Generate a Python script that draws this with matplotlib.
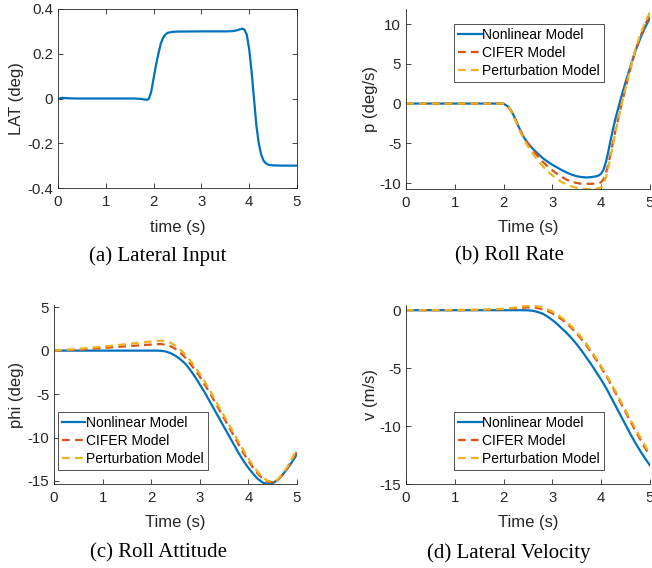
import matplotlib
matplotlib.use("Agg")
import matplotlib.pyplot as plt

plt.rcParams['font.family'] = ['Liberation Sans', 'DejaVu Sans']
plt.rcParams['axes.unicode_minus'] = False

BLUE = "#0072BD"
ORANGE = "#D95319"
YELLOW = "#EDB120"
DARK = "#262626"

# (a) lateral input
t_lat = [0, 0.05, 0.1, 0.2, 0.4, 1.0, 1.6, 1.75, 1.85, 1.9, 1.95, 2.0, 2.05, 2.1, 2.15, 2.2,
         2.25, 2.3, 2.4, 2.5, 3.0, 3.5, 3.65, 3.75, 3.85, 3.9, 3.95, 4.0, 4.05, 4.1, 4.15,
         4.2, 4.25, 4.3, 4.35, 4.4, 4.5, 4.7, 5.0]
lat = [-0.005, 0.002, 0.003, 0.001, 0, 0, 0, -0.002, -0.006, -0.002, 0.03, 0.09, 0.15, 0.2,
       0.245, 0.272, 0.287, 0.294, 0.298, 0.299, 0.3, 0.3, 0.301, 0.305, 0.312, 0.308, 0.285,
       0.22, 0.12, 0.0, -0.12, -0.2, -0.25, -0.278, -0.29, -0.296, -0.299, -0.3, -0.3]

# (b) roll rate
t_p = [0, 1.9, 2.0, 2.1, 2.2, 2.3, 2.4, 2.5, 2.6, 2.7, 2.8, 2.9, 3.0, 3.1, 3.2, 3.3, 3.4, 3.5,
       3.6, 3.7, 3.8, 3.9, 3.95, 4.0, 4.05, 4.1, 4.15, 4.2, 4.25, 4.3, 4.4, 4.5, 4.6, 4.7,
       4.8, 4.9, 5.0]
p_nonlin = [0, 0, -0.02, -0.4, -1.4, -2.8, -4.1, -5.0, -5.7, -6.3, -6.85, -7.3, -7.7, -8.05,
            -8.4, -8.7, -8.95, -9.15, -9.25, -9.3, -9.25, -9.15, -9.05, -8.8, -8.3, -7.3,
            -5.9, -4.4, -3.0, -1.7, 0.6, 2.7, 4.7, 6.6, 8.2, 9.6, 10.8]
p_cifer = [0, 0, -0.02, -0.4, -1.4, -2.8, -4.1, -5.1, -5.9, -6.6, -7.3, -7.9, -8.4, -8.85,
           -9.25, -9.6, -9.85, -10.0, -10.1, -10.1, -10.1, -10.05, -10.0, -9.9, -9.5, -8.7,
           -7.5, -6.1, -4.6, -3.2, -0.5, 2.0, 4.4, 6.6, 8.4, 9.9, 11.2]
p_pert = [0, 0, -0.02, -0.4, -1.5, -3.0, -4.3, -5.4, -6.3, -7.1, -7.85, -8.5, -9.05, -9.5,
          -9.9, -10.2, -10.45, -10.6, -10.7, -10.75, -10.75, -10.7, -10.65, -10.55, -10.1,
          -9.2, -7.9, -6.4, -4.9, -3.4, -0.6, 2.0, 4.5, 6.8, 8.7, 10.2, 11.5]

# (c) roll attitude and (d) lateral velocity share time points
t_cd = [0, 0.5, 1.0, 1.5, 2.0, 2.1, 2.2, 2.3, 2.4, 2.5, 2.6, 2.7, 2.8, 2.9, 3.0, 3.1, 3.2,
        3.3, 3.4, 3.5, 3.6, 3.7, 3.8, 3.9, 4.0, 4.1, 4.2, 4.3, 4.4, 4.5, 4.6, 4.7, 4.8, 4.9, 5.0]
phi_nonlin = [0, 0, 0, 0, 0, 0, -0.02, -0.1, -0.3, -0.6, -1.0, -1.5, -2.2, -3.0, -3.9, -4.8,
              -5.8, -6.8, -7.8, -8.8, -9.8, -10.8, -11.8, -12.7, -13.5, -14.2, -14.8, -15.2,
              -15.35, -15.25, -14.9, -14.3, -13.6, -12.8, -11.9]
phi_cifer = [0, 0.1, 0.3, 0.5, 0.7, 0.75, 0.75, 0.68, 0.5, 0.2, -0.25, -0.8, -1.5, -2.2, -3.0,
             -3.9, -4.8, -5.8, -6.8, -7.8, -8.8, -9.8, -10.8, -11.8, -12.7, -13.5, -14.2,
             -14.8, -15.1, -15.15, -14.9, -14.3, -13.5, -12.6, -11.6]
phi_pert = [0, 0.2, 0.45, 0.75, 1.05, 1.12, 1.15, 1.08, 0.9, 0.55, 0.1, -0.45, -1.1, -1.85,
            -2.65, -3.55, -4.5, -5.5, -6.5, -7.5, -8.5, -9.5, -10.5, -11.5, -12.4, -13.3,
            -14.0, -14.6, -15.0, -15.1, -14.85, -14.2, -13.4, -12.4, -11.3]
v_nonlin = [0, 0, 0, 0, 0, 0, 0, 0, 0, -0.01, -0.05, -0.15, -0.3, -0.55, -0.85, -1.2, -1.6,
            -2.0, -2.45, -2.95, -3.5, -4.1, -4.7, -5.35, -6.0, -6.7, -7.5, -8.3, -9.1, -9.9,
            -10.7, -11.45, -12.15, -12.8, -13.4]
v_cifer = [0, 0, 0, 0.02, 0.08, 0.11, 0.15, 0.18, 0.22, 0.24, 0.23, 0.18, 0.08, -0.07, -0.27,
           -0.52, -0.82, -1.17, -1.57, -2.02, -2.52, -3.07, -3.67, -4.3, -4.95, -5.65, -6.4,
           -7.2, -8.0, -8.8, -9.6, -10.4, -11.15, -11.9, -12.6]
v_pert = [0, 0, 0.02, 0.05, 0.12, 0.16, 0.21, 0.27, 0.33, 0.37, 0.37, 0.32, 0.22, 0.07, -0.13,
          -0.38, -0.68, -1.03, -1.43, -1.88, -2.38, -2.93, -3.53, -4.17, -4.83, -5.53, -6.28,
          -7.05, -7.85, -8.65, -9.45, -10.2, -10.95, -11.7, -12.4]

labels = ["Nonlinear Model", "CIFER Model", "Perturbation Model"]

fig = plt.figure(figsize=(6.52, 5.68), dpi=100)
W, H = 652.0, 568.0
TICK_FS = 10.8
LABEL_FS = 12
LEG_FS = 10


def make_axes(l, r, top, bot):
    return fig.add_axes([l / W, 1 - bot / H, (r - l) / W, (bot - top) / H])


def style(ax, box):
    for s in ax.spines.values():
        s.set_color(DARK)
        s.set_linewidth(0.6)
    if not box:
        ax.spines['top'].set_visible(False)
        ax.spines['right'].set_visible(False)
    ax.tick_params(direction='in', length=3.5, width=0.6, colors=DARK, labelsize=TICK_FS,
                   top=box, right=box)
    ax.tick_params(axis='x', pad=5)
    ax.tick_params(axis='y', pad=3.5)


def three(ax, t, a, b, c, loc):
    ax.plot(t, a, color=BLUE, lw=1.6, label=labels[0])
    ax.plot(t, b, color=ORANGE, lw=1.6, dashes=(3.5, 2.3), label=labels[1])
    ax.plot(t, c, color=YELLOW, lw=1.6, dashes=(3.5, 2.3), label=labels[2])
    leg = ax.legend(loc='upper left', bbox_to_anchor=loc, fontsize=LEG_FS, frameon=True,
                    fancybox=False, borderpad=0.28, labelspacing=0.3, handlelength=1.7,
                    handletextpad=0.05, borderaxespad=0)
    leg.get_frame().set_edgecolor('black')
    leg.get_frame().set_linewidth(0.6)


# (a)
ax = make_axes(58, 297, 9, 188)
ax.plot(t_lat, lat, color=BLUE, lw=1.6)
ax.set_xlim(0, 5)
ax.set_ylim(-0.4, 0.4)
ax.set_yticks([-0.4, -0.2, 0, 0.2, 0.4])
ax.set_yticklabels(["-0.4", "-0.2", "0", "0.2", "0.4"])
style(ax, True)
ax.set_xlabel("time (s)", fontsize=LABEL_FS, color=DARK)
ax.set_ylabel("LAT (deg)", fontsize=LABEL_FS, color=DARK)
ax.xaxis.set_label_coords(0.5, -0.18)
ax.yaxis.set_label_coords(-0.142, 0.5)

# (b)
ax = make_axes(406, 650, 9, 189)
three(ax, t_p, p_nonlin, p_cifer, p_pert, (0.197, 0.917))
ax.set_xlim(0, 5)
ax.set_ylim(-10.75, 11.9)
ax.set_yticks([-10, -5, 0, 5, 10])
style(ax, False)
ax.set_xlabel("Time (s)", fontsize=LABEL_FS, color=DARK)
ax.set_ylabel("p (deg/s)", fontsize=LABEL_FS, color=DARK)
ax.xaxis.set_label_coords(0.5, -0.172)
ax.yaxis.set_label_coords(-0.115, 0.5)

# (c)
ax = make_axes(54, 297, 305, 484)
three(ax, t_cd, phi_nonlin, phi_cifer, phi_pert, (0.016, 0.402))
ax.set_xlim(0, 5)
ax.set_ylim(-15.35, 5.25)
ax.set_yticks([-15, -10, -5, 0, 5])
style(ax, False)
ax.set_xlabel("Time (s)", fontsize=LABEL_FS, color=DARK)
ax.set_ylabel("phi (deg)", fontsize=LABEL_FS, color=DARK)
ax.xaxis.set_label_coords(0.5, -0.172)
ax.yaxis.set_label_coords(-0.123, 0.5)

# (d)
ax = make_axes(406, 650, 305, 484)
three(ax, t_cd, v_nonlin, v_cifer, v_pert, (0.197, 0.402))
ax.set_xlim(0, 5)
ax.set_ylim(-15, 0.45)
ax.set_yticks([-15, -10, -5, 0])
style(ax, False)
ax.set_xlabel("Time (s)", fontsize=LABEL_FS, color=DARK)
ax.set_ylabel("v (m/s)", fontsize=LABEL_FS, color=DARK)
ax.xaxis.set_label_coords(0.5, -0.172)
ax.yaxis.set_label_coords(-0.115, 0.5)

cap = dict(family='Liberation Serif', fontsize=15, ha='center', va='center')
fig.text(158 / W, 1 - 256 / H, "(a) Lateral Input", **cap)
fig.text(509 / W, 1 - 256 / H, "(b) Roll Rate", **cap)
fig.text(158 / W, 1 - 553 / H, "(c) Roll Attitude", **cap)
fig.text(509 / W, 1 - 553 / H, "(d) Lateral Velocity", **cap)

fig.savefig("out.png", dpi=100)
